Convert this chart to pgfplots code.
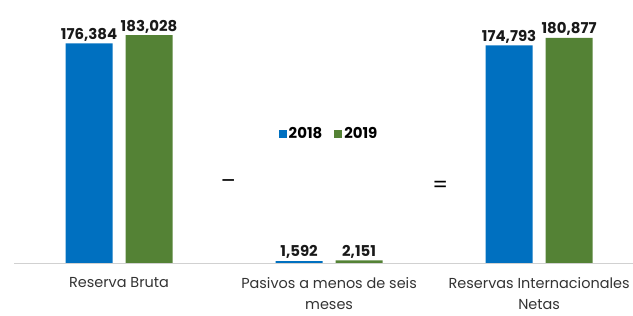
\documentclass[border=0pt]{standalone}
\usepackage{pgfplots}
\pgfplotsset{compat=1.18}
\usepackage{fontspec}
\setmainfont{Poppins}
\definecolor{cblue}{HTML}{0070C0}
\definecolor{cgreen}{HTML}{548235}
\begin{document}
\begin{tikzpicture}
\begin{axis}[
  at={(14bp,53bp)}, anchor=south west,
  scale only axis, width=619bp, height=249bp,
  xmin=-0.5, xmax=2.447, ymin=0, ymax=200000,
  ybar=13bp, bar width=47bp,
  axis x line*=bottom, axis y line=none,
  x axis line style={draw=black!18, line width=0.8pt},
  xtick={0,1,2}, xtick style={draw=none},
  xticklabels={Reserva Bruta, Pasivos a menos de seis\\meses, Reservas Internacionales\\Netas},
  xticklabel style={align=center, font=\fontsize{14.5}{20.5}\selectfont, text=black!80, yshift=-7bp},
  ytick=\empty,
  /pgf/number format/assume math mode=true,
  nodes near coords,
  nodes near coords style={font=\bfseries\fontsize{15}{16}\selectfont, text=black!90, inner sep=2bp, /pgf/number format/.cd, 1000 sep={,}, fixed, precision=0},
  legend image code/.code={\fill[#1] (0bp,-4bp) rectangle (8bp,4bp);},
  legend style={at={(axis cs:1,104000)}, anchor=center, draw=none, legend columns=2,
    font=\bfseries\fontsize{15}{16}\selectfont, /tikz/every even column/.append style={column sep=10bp},
    /tikz/every node/.append style={inner xsep=2bp}},
]
\addplot[fill=cblue, draw=none] coordinates {(0,176384) (1,1592) (2,174793)};
\addplot[fill=cgreen, draw=none] coordinates {(0,183028) (1,2151) (2,180877)};
\legend{2018,2019}
\node[font=\fontsize{22}{22}\selectfont] at (axis cs:0.52,63400) {--};
\node[font=\fontsize{22}{22}\selectfont] at (axis cs:1.53,61000) {=};
\end{axis}
\pgfresetboundingbox
\path (0,0) rectangle (633bp,316bp);
\end{tikzpicture}
\end{document}
